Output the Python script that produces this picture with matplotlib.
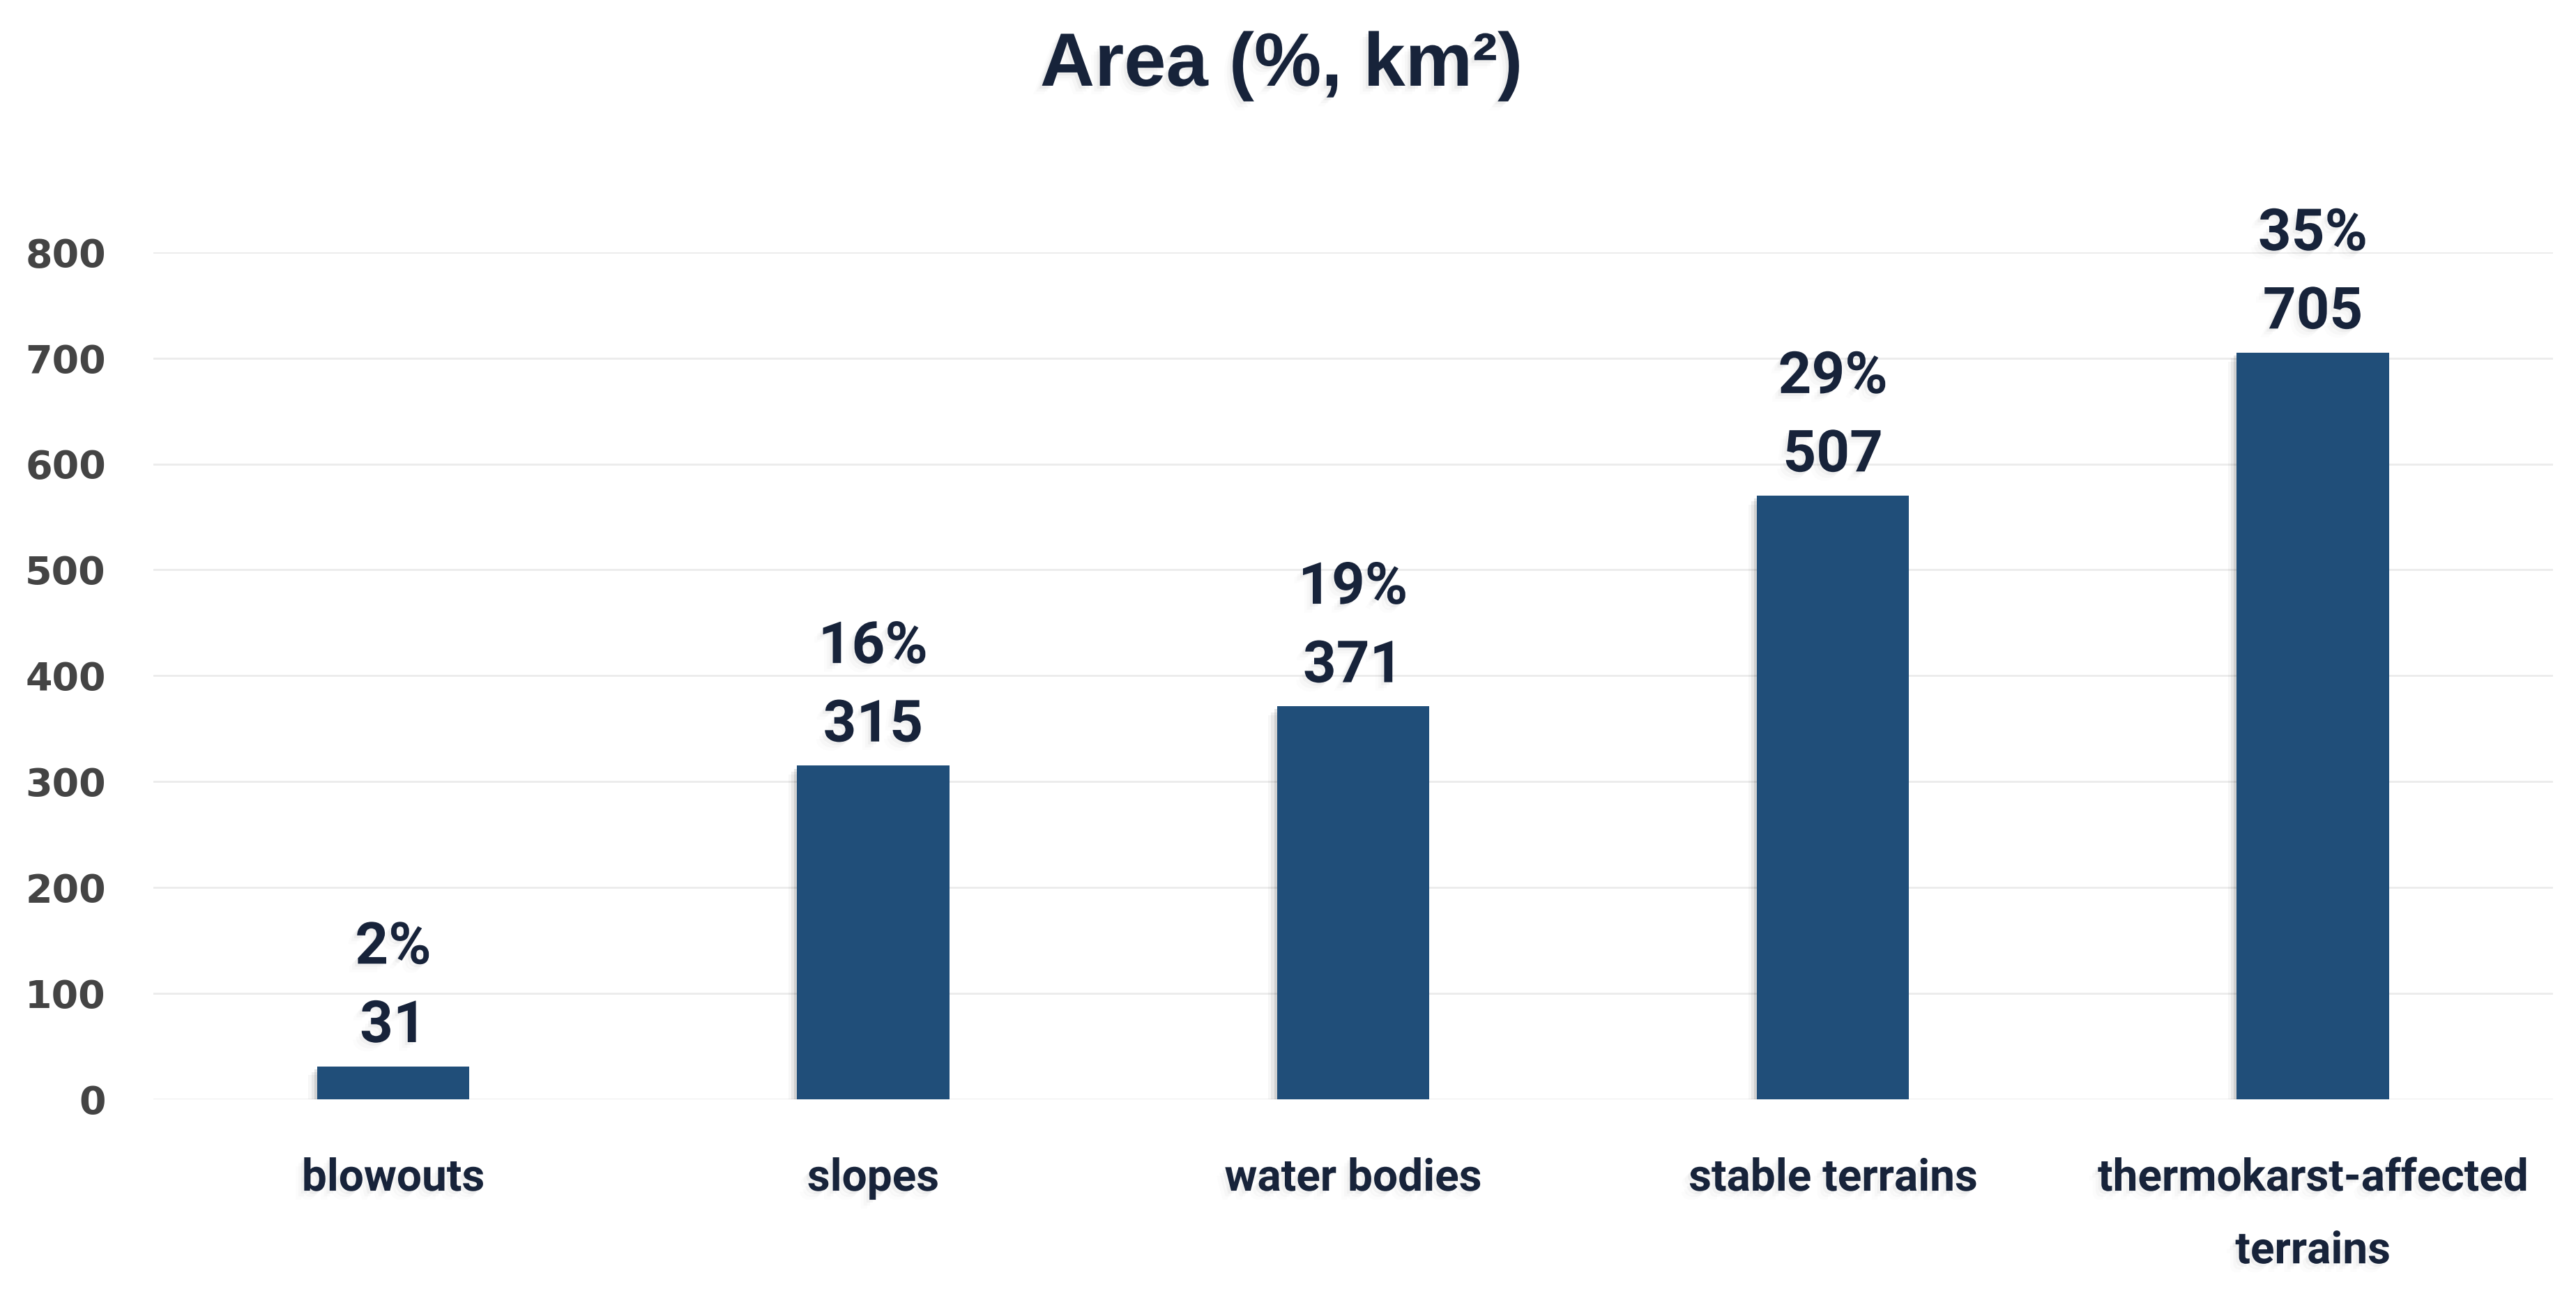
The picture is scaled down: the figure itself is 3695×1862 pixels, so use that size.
import matplotlib
matplotlib.use("Agg")
import matplotlib.pyplot as plt
import matplotlib.patheffects as pe

categories = ["blowouts", "slopes", "water bodies", "stable terrains", "thermokarst-affected\nterrains"]
bar_values = [31, 315, 371, 570, 705]
value_labels = ["31", "315", "371", "507", "705"]
percent_labels = ["2%", "16%", "19%", "29%", "35%"]
yticks = [0, 100, 200, 300, 400, 500, 600, 700, 800]

BAR_COLOR = "#204e79"
TEXT_COLOR = "#17233a"
TICK_COLOR = "#444444"

fig = plt.figure(figsize=(36.95, 18.62), dpi=100)
fig.patch.set_facecolor("white")
ax = fig.add_axes([0.0595, 0.1532, 0.9315, 0.6525])

def soft_shadow(alpha):
    return [pe.SimplePatchShadow(offset=(-3, -3), shadow_rgbFace="black", alpha=alpha),
            pe.SimplePatchShadow(offset=(-6, -6), shadow_rgbFace="black", alpha=alpha * 0.6),
            pe.SimplePatchShadow(offset=(-9, -9), shadow_rgbFace="black", alpha=alpha * 0.3),
            pe.Normal()]

x = list(range(len(categories)))
bars = ax.bar(x, bar_values, width=0.317, color=BAR_COLOR, zorder=3)
for b in bars:
    b.set_path_effects(soft_shadow(0.1))

text_fx = soft_shadow(0.035)
for xi, v, vl, pl in zip(x, bar_values, value_labels, percent_labels):
    ax.annotate(vl, (xi, v), xytext=(0, 25), textcoords="offset points",
                ha="center", va="baseline", fontsize=60, fontweight="bold",
                family="Roboto", color=TEXT_COLOR, annotation_clip=False,
                path_effects=text_fx)
    ax.annotate(pl, (xi, v), xytext=(0, 106), textcoords="offset points",
                ha="center", va="baseline", fontsize=60, fontweight="bold",
                family="Roboto", color=TEXT_COLOR, annotation_clip=False,
                path_effects=text_fx)

ax.set_xlim(-0.5, len(categories) - 0.5)
ax.set_ylim(0, 800)
ax.set_yticks(yticks)
ax.set_yticklabels([str(t) for t in yticks], fontsize=40, fontweight="bold",
                   family="DejaVu Sans", color=TICK_COLOR)
ax.set_xticks(x)
ax.set_xticklabels(categories, fontsize=46, fontweight="bold", family="Roboto",
                   color=TEXT_COLOR, linespacing=1.9)
ax.tick_params(axis="y", length=0, pad=49)
ax.tick_params(axis="x", length=0, pad=60)
for lab in ax.get_xticklabels():
    lab.set_path_effects(text_fx)

ax.grid(axis="y", color="#ebebeb", linewidth=2, zorder=0)
ax.set_axisbelow(True)
for s in ax.spines.values():
    s.set_visible(False)

fig.text(0.4975, 0.949, "Area (%, km²)", ha="center", va="center", fontsize=78,
         fontweight="bold", family="Liberation Sans", color=TEXT_COLOR,
         path_effects=soft_shadow(0.04))

fig.savefig("out.png", dpi=100, facecolor="white")
